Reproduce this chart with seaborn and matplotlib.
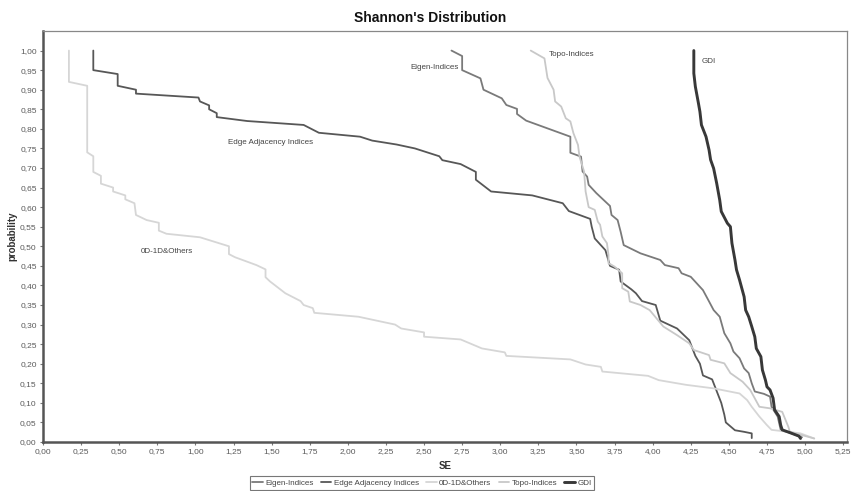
import numpy as np
import pandas as pd
import matplotlib
matplotlib.use("Agg")
import matplotlib.pyplot as plt
import seaborn as sns
from matplotlib.lines import Line2D

# Survival curves of the Shannon entropy (SE) per descriptor block
series_names = ["Eigen-Indices", "Edge Adjacency Indices", "0D-1D&Others", "Topo-Indices", "GDI"]

eigen_se = [2.68, 2.75, 2.75, 2.87, 2.89, 3.01, 3.04, 3.11, 3.11, 3.17, 3.46, 3.46, 3.53, 3.54, 3.57,
            3.58, 3.63, 3.72, 3.73, 3.77, 3.79, 3.81, 3.92, 4.05, 4.08, 4.17, 4.19, 4.25, 4.33, 4.37,
            4.40, 4.44, 4.47, 4.51, 4.53, 4.57, 4.60, 4.63, 4.65, 4.67, 4.73, 4.77, 4.78, 4.82, 4.84,
            4.88, 4.94, 4.98]
eigen_prob = [1.00, 0.986, 0.95, 0.929, 0.90, 0.878, 0.861, 0.851, 0.838, 0.821, 0.78, 0.739, 0.729, 0.691, 0.678,
              0.657, 0.636, 0.603, 0.58, 0.567, 0.537, 0.503, 0.482, 0.465, 0.452, 0.444, 0.431, 0.422, 0.388, 0.359,
              0.337, 0.32, 0.278, 0.252, 0.231, 0.214, 0.188, 0.176, 0.15, 0.129, 0.123, 0.116, 0.09, 0.065, 0.031,
              0.026, 0.018, 0.012]

edge_se = [0.33, 0.33, 0.49, 0.49, 0.61, 0.61, 1.02, 1.03, 1.09, 1.09, 1.14, 1.14, 1.34, 1.71, 1.81,
           2.08, 2.16, 2.32, 2.44, 2.60, 2.62, 2.74, 2.84, 2.84, 2.94, 3.21, 3.41, 3.45, 3.59, 3.60,
           3.62, 3.69, 3.72, 3.78, 3.79, 3.86, 3.89, 3.93, 4.02, 4.05, 4.16, 4.24, 4.27, 4.28, 4.31,
           4.33, 4.39, 4.41, 4.45, 4.47, 4.48, 4.54, 4.60, 4.65, 4.65]
edge_prob = [1.00, 0.95, 0.94, 0.91, 0.90, 0.89, 0.88, 0.87, 0.86, 0.85, 0.84, 0.83, 0.82, 0.81, 0.79,
             0.78, 0.77, 0.76, 0.75, 0.73, 0.72, 0.71, 0.69, 0.67, 0.64, 0.63, 0.61, 0.59, 0.57, 0.55,
             0.52, 0.49, 0.45, 0.44, 0.41, 0.39, 0.38, 0.36, 0.35, 0.31, 0.29, 0.26, 0.23, 0.22, 0.20,
             0.17, 0.16, 0.14, 0.10, 0.07, 0.05, 0.03, 0.026, 0.022, 0.01]

others_se = [0.17, 0.17, 0.29, 0.29, 0.33, 0.33, 0.38, 0.38, 0.46, 0.46, 0.54, 0.54, 0.60, 0.61, 0.68,
             0.76, 0.76, 0.81, 1.03, 1.22, 1.22, 1.26, 1.40, 1.46, 1.46, 1.49, 1.59, 1.69, 1.71, 1.77,
             1.78, 2.07, 2.31, 2.35, 2.50, 2.50, 2.74, 2.88, 3.03, 3.04, 3.46, 3.56, 3.66, 3.67, 3.97,
             4.04, 4.22, 4.40, 4.57, 4.62, 4.65, 4.70, 4.75, 4.78, 4.89, 4.97, 5.06]
others_prob = [1.00, 0.92, 0.91, 0.74, 0.73, 0.69, 0.68, 0.66, 0.65, 0.64, 0.63, 0.62, 0.61, 0.58, 0.567,
               0.56, 0.54, 0.532, 0.523, 0.50, 0.48, 0.472, 0.452, 0.441, 0.421, 0.41, 0.38, 0.36, 0.35, 0.342,
               0.33, 0.32, 0.30, 0.29, 0.28, 0.269, 0.262, 0.239, 0.229, 0.22, 0.211, 0.198, 0.192, 0.18, 0.169,
               0.158, 0.146, 0.137, 0.124, 0.107, 0.09, 0.065, 0.043, 0.031, 0.026, 0.022, 0.009]

topo_se = [3.20, 3.29, 3.31, 3.35, 3.36, 3.40, 3.43, 3.46, 3.48, 3.51, 3.52, 3.55, 3.56, 3.58, 3.62,
           3.64, 3.655, 3.67, 3.70, 3.71, 3.71, 3.75, 3.80, 3.80, 3.84, 3.85, 3.92, 3.98, 4.07, 4.16,
           4.24, 4.27, 4.37, 4.38, 4.47, 4.51, 4.59, 4.64, 4.70, 4.77, 4.85, 4.89, 4.90, 5.06]
topo_prob = [1.00, 0.98, 0.93, 0.90, 0.87, 0.857, 0.827, 0.819, 0.789, 0.759, 0.729, 0.691, 0.64, 0.60, 0.593,
             0.563, 0.555, 0.525, 0.508, 0.478, 0.457, 0.448, 0.431, 0.393, 0.384, 0.359, 0.35, 0.337, 0.295, 0.273,
             0.252, 0.235, 0.222, 0.21, 0.201, 0.176, 0.154, 0.133, 0.09, 0.086, 0.077, 0.039, 0.026, 0.009]

gdi_se = [4.27, 4.27, 4.28, 4.30, 4.31, 4.32, 4.35, 4.37, 4.38, 4.40, 4.42, 4.44, 4.45, 4.49, 4.51,
          4.52, 4.54, 4.55, 4.57, 4.60, 4.61, 4.63, 4.65, 4.67, 4.68, 4.71, 4.72, 4.74, 4.75, 4.77,
          4.79, 4.80, 4.83, 4.84, 4.85, 4.90, 4.96, 4.97]
gdi_prob = [1.00, 0.942, 0.908, 0.866, 0.844, 0.81, 0.78, 0.746, 0.721, 0.699, 0.661, 0.618, 0.589, 0.559, 0.55,
            0.508, 0.465, 0.44, 0.414, 0.371, 0.337, 0.32, 0.295, 0.269, 0.239, 0.218, 0.184, 0.158, 0.141, 0.133,
            0.112, 0.082, 0.065, 0.043, 0.031, 0.024, 0.015, 0.009]

x_ticks = [0.00, 0.25, 0.50, 0.75, 1.00, 1.25, 1.50, 1.75, 2.00, 2.25, 2.50, 2.75, 3.00,
           3.25, 3.50, 3.75, 4.00, 4.25, 4.50, 4.75, 5.00, 5.25]
y_ticks = [0.00, 0.05, 0.10, 0.15, 0.20, 0.25, 0.30, 0.35, 0.40, 0.45, 0.50,
           0.55, 0.60, 0.65, 0.70, 0.75, 0.80, 0.85, 0.90, 0.95, 1.00]

# Long-form table
curves = {
    "Eigen-Indices": (eigen_se, eigen_prob),
    "Edge Adjacency Indices": (edge_se, edge_prob),
    "0D-1D&Others": (others_se, others_prob),
    "Topo-Indices": (topo_se, topo_prob),
    "GDI": (gdi_se, gdi_prob),
}
df = pd.concat(
    [pd.DataFrame({"SE": xs, "probability": ps, "series": name, "order": range(len(xs))})
     for name, (xs, ps) in curves.items()],
    ignore_index=True,
)

colors = {
    "Eigen-Indices": "#7a7a7a",
    "Edge Adjacency Indices": "#575757",
    "0D-1D&Others": "#d6d6d6",
    "Topo-Indices": "#c8c8c8",
    "GDI": "#383838",
}
widths = {
    "Eigen-Indices": 1.3,
    "Edge Adjacency Indices": 1.3,
    "0D-1D&Others": 1.3,
    "Topo-Indices": 1.3,
    "GDI": 2.1,
}

sns.set_theme(style="white")
plt.rcParams["font.family"] = ["Liberation Sans", "DejaVu Sans"]

fig = plt.figure(figsize=(8.54, 4.91), dpi=100)
ax = fig.add_axes([43 / 854, 49 / 491, (847 - 43) / 854, (442 - 31) / 491])

for name in series_names:
    sub = df[df["series"] == name].sort_values("order")
    sns.lineplot(data=sub, x="SE", y="probability", sort=False, estimator=None,
                 color=colors[name], linewidth=widths[name], ax=ax, legend=False)

ax.set_xlim(0, 5.275)
ax.set_ylim(0, 1.05)
ax.set_xticks(x_ticks)
ax.set_xticklabels([f"{v:.2f}".replace(".", ",") for v in x_ticks])
ax.set_yticks(y_ticks)
ax.set_yticklabels([f"{v:.2f}".replace(".", ",") for v in y_ticks])
ax.tick_params(axis="both", which="major", bottom=True, left=True, direction="out",
               length=2.5, width=0.8, color="#777777", labelsize=6, labelcolor="#5a5a5a", pad=2)

for side in ("left", "bottom"):
    ax.spines[side].set_color("#555555")
    ax.spines[side].set_linewidth(1.8)
for side in ("top", "right"):
    ax.spines[side].set_color("#888888")
    ax.spines[side].set_linewidth(0.9)

ax.set_xlabel("SE", fontsize=7, fontweight="bold", color="#333333", labelpad=4)
ax.set_ylabel("probability", fontsize=7, fontweight="bold", color="#333333", labelpad=2)

# Series names written next to their curves
curve_labels = [
    ("Eigen-Indices", 2.41, 0.958),
    ("Topo-Indices", 3.32, 0.989),
    ("GDI", 4.32, 0.972),
    ("Edge Adjacency Indices", 1.215, 0.765),
    ("0D-1D&Others", 0.64, 0.486),
]
for text, x, y in curve_labels:
    ax.text(x, y, text, fontsize=5.8, color="#444444", ha="left", va="center")

fig.text(430 / 854, 1 - 18 / 491, "Shannon's Distribution", fontsize=10, fontweight="bold",
         color="#111111", ha="center", va="center")

handles = [Line2D([0], [0], color=colors[n], linewidth=widths[n]) for n in series_names]
leg = fig.legend(handles, series_names, loc="center", bbox_to_anchor=(422 / 854, 1 - 483 / 491),
                 ncol=5, fontsize=5.8, frameon=True, fancybox=False, edgecolor="#555555",
                 handlelength=1.3, handletextpad=0.3, columnspacing=0.9, borderpad=0.35)
leg.get_frame().set_linewidth(0.8)
for t in leg.get_texts():
    t.set_color("#444444")

fig.savefig("out.png", dpi=100)
